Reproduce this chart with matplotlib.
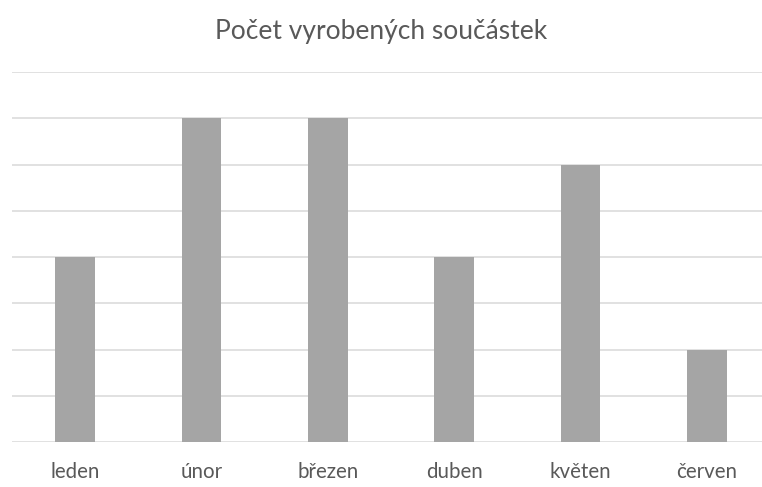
import matplotlib
matplotlib.use("Agg")
import matplotlib.pyplot as plt

# data
months = ["leden", "únor", "březen", "duben", "květen", "červen"]
counts = [4, 7, 7, 4, 6, 2]

plt.rcParams['font.family'] = ['Lato', 'DejaVu Sans']

fig = plt.figure(figsize=(7.62, 4.87), dpi=100)
ax = fig.add_axes([12 / 762, 45 / 487, 758 / 762, 370 / 487])

x = list(range(len(months)))
ax.bar(x, counts, width=0.316, color='#a5a5a5', zorder=3)

ax.set_xlim(-0.5, len(months) - 0.5)
ax.set_ylim(0, 8)
ax.set_yticks(range(0, 9))
ax.yaxis.grid(True, color='#d9d9d9', linewidth=1.1, zorder=0)
ax.tick_params(axis='y', left=False, labelleft=False)
ax.tick_params(axis='x', bottom=False, labelsize=14.8, labelcolor='#595959', pad=11)
ax.set_xticks(x)
ax.set_xticklabels(months)
for s in ax.spines.values():
    s.set_visible(False)

fig.text(0.5, 1 - 31 / 487, "Počet vyrobených součástek", ha='center', va='center',
         fontsize=19, color='#595959')

fig.savefig("out.png", dpi=100)
